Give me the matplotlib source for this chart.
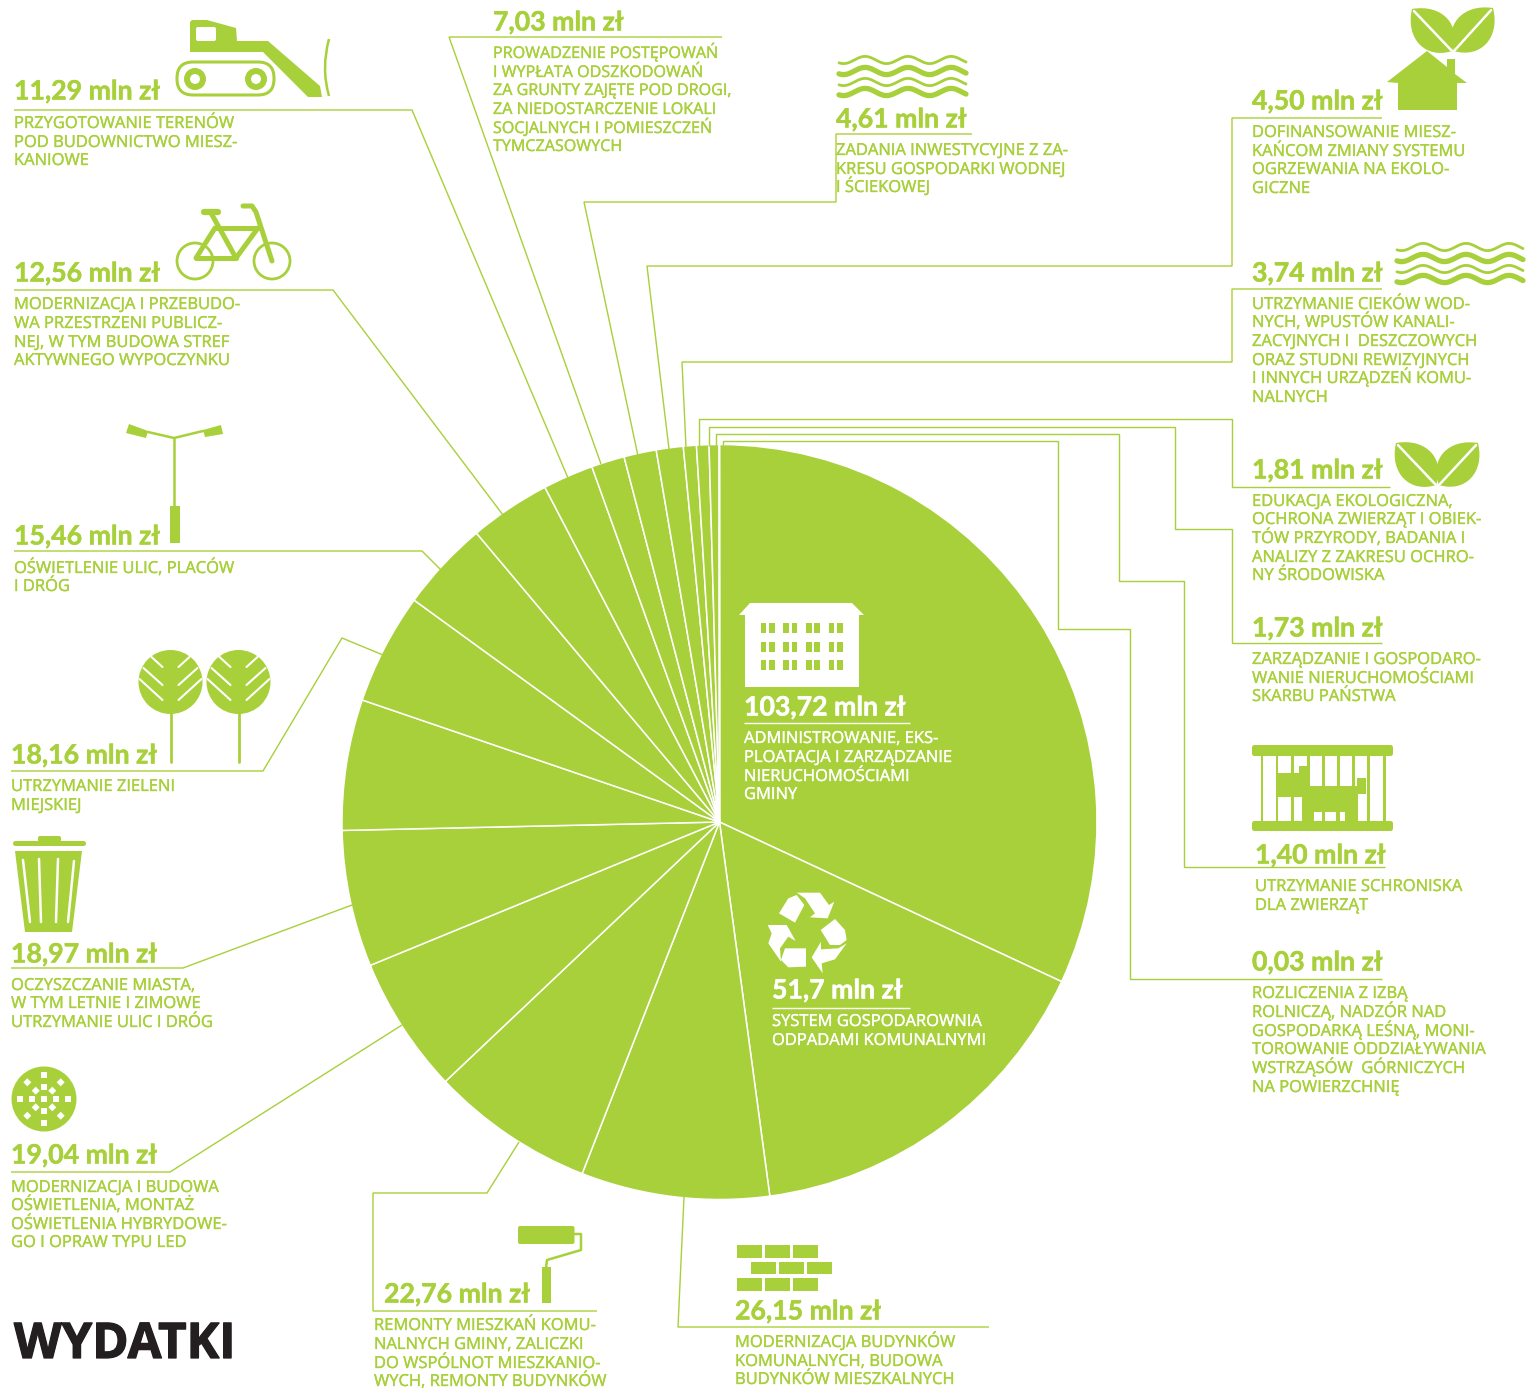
import numpy as np
import matplotlib
matplotlib.use("Agg")
import matplotlib.pyplot as plt
import matplotlib.patheffects as pe
from matplotlib.patches import Polygon, Circle, Rectangle, FancyBboxPatch, PathPatch
from matplotlib.path import Path

W, H = 1529, 1388
GREEN = "#A8D03A"
LINE = "#A8D03A"
DARK = "#231F20"
plt.rcParams["font.family"] = ["Open Sans", "DejaVu Sans"]

# ---------------- data (clockwise from the top) ----------------
values = [103.72, 51.7, 26.15, 22.76, 19.04, 18.97, 18.16, 15.46, 12.56,
          11.29, 7.03, 4.61, 4.50, 3.74, 1.81, 1.73, 1.40, 0.03]
value_labels = ["103,72 mln zł", "51,7 mln zł", "26,15 mln zł", "22,76 mln zł",
                "19,04 mln zł", "18,97 mln zł", "18,16 mln zł", "15,46 mln zł",
                "12,56 mln zł", "11,29 mln zł", "7,03 mln zł", "4,61 mln zł",
                "4,50 mln zł", "3,74 mln zł", "1,81 mln zł", "1,73 mln zł",
                "1,40 mln zł", "0,03 mln zł"]
descriptions = [
    ["ADMINISTROWANIE, EKS-", "PLOATACJA I ZARZĄDZANIE", "NIERUCHOMOŚCIAMI", "GMINY"],
    ["SYSTEM GOSPODAROWNIA", "ODPADAMI KOMUNALNYMI"],
    ["MODERNIZACJA BUDYNKÓW", "KOMUNALNYCH, BUDOWA", "BUDYNKÓW MIESZKALNYCH"],
    ["REMONTY MIESZKAŃ KOMU-", "NALNYCH GMINY, ZALICZKI", "DO WSPÓLNOT MIESZKANIO-", "WYCH, REMONTY BUDYNKÓW"],
    ["MODERNIZACJA I BUDOWA", "OŚWIETLENIA, MONTAŻ", "OŚWIETLENIA HYBRYDOWE-", "GO I OPRAW TYPU LED"],
    ["OCZYSZCZANIE MIASTA,", "W TYM LETNIE I ZIMOWE", "UTRZYMANIE ULIC I DRÓG"],
    ["UTRZYMANIE ZIELENI", "MIEJSKIEJ"],
    ["OŚWIETLENIE ULIC, PLACÓW", "I DRÓG"],
    ["MODERNIZACJA I PRZEBUDO-", "WA PRZESTRZENI PUBLICZ-", "NEJ, W TYM BUDOWA STREF", "AKTYWNEGO WYPOCZYNKU"],
    ["PRZYGOTOWANIE TERENÓW", "POD BUDOWNICTWO MIESZ-", "KANIOWE"],
    ["PROWADZENIE POSTĘPOWAŃ", "I WYPŁATA ODSZKODOWAŃ", "ZA GRUNTY ZAJĘTE POD DROGI,", "ZA NIEDOSTARCZENIE LOKALI", "SOCJALNYCH I POMIESZCZEŃ", "TYMCZASOWYCH"],
    ["ZADANIA INWESTYCYJNE Z ZA-", "KRESU GOSPODARKI WODNEJ", "I ŚCIEKOWEJ"],
    ["DOFINANSOWANIE MIESZ-", "KAŃCOM ZMIANY SYSTEMU", "OGRZEWANIA NA EKOLO-", "GICZNE"],
    ["UTRZYMANIE CIEKÓW WOD-", "NYCH, WPUSTÓW KANALI-", "ZACYJNYCH I  DESZCZOWYCH", "ORAZ STUDNI REWIZYJNYCH", "I INNYCH URZĄDZEŃ KOMU-", "NALNYCH"],
    ["EDUKACJA EKOLOGICZNA,", "OCHRONA ZWIERZĄT I OBIEK-", "TÓW PRZYRODY, BADANIA I", "ANALIZY Z ZAKRESU OCHRO-", "NY ŚRODOWISKA"],
    ["ZARZĄDZANIE I GOSPODARO-", "WANIE NIERUCHOMOŚCIAMI", "SKARBU PAŃSTWA"],
    ["UTRZYMANIE SCHRONISKA", "DLA ZWIERZĄT"],
    ["ROZLICZENIA Z IZBĄ", "ROLNICZĄ, NADZÓR NAD", "GOSPODARKĄ LEŚNĄ, MONI-", "TOROWANIE ODDZIAŁYWANIA", "WSTRZĄSÓW  GÓRNICZYCH", "NA POWIERZCHNIĘ"],
]
# label layout: x of value, y-centre of value, x of text, y-centres of text lines
layout = [
    (744, 706, 744, [737, 756, 775, 793]),
    (772, 989, 772, [1020, 1039]),
    (735, 1310, 735, [1341, 1360, 1378]),
    (384, 1293, 374, [1324, 1343, 1362, 1380]),
    (11, 1154, 11, [1186, 1204, 1223, 1241]),
    (11, 953, 11, [984, 1002, 1021]),
    (11, 754, 11, [785, 804]),
    (14, 535, 14, [567, 585]),
    (14, 272, 14, [303, 322, 341, 359]),
    (14, 90, 14, [122, 141, 159]),
    (493, 21, 493, [52, 71, 89, 108, 127, 145]),
    (836, 118, 836, [149, 168, 186]),
    (1252, 100, 1252, [131, 150, 168, 187]),
    (1252, 272, 1252, [303, 321, 340, 359, 377, 396]),
    (1252, 469, 1252, [500, 518, 537, 556, 574]),
    (1252, 627, 1252, [658, 677, 695]),
    (1255, 854, 1255, [885, 904]),
    (1252, 961, 1252, [992, 1011, 1030, 1048, 1067, 1086]),
]
leaders = [
    [(14, 110), (412, 110), (568, 478)],
    [(722, 37), (449, 37), (601, 464)],
    [(972, 134), (836, 134), (836, 202), (584, 202), (638, 456)],
    [(1382, 118), (1232, 118), (1232, 266), (647, 266), (669, 449)],
    [(1382, 289), (1232, 289), (1232, 362), (682, 362), (686, 447)],
    [(1390, 487), (1232, 487), (1232, 419), (699, 419), (699, 446)],
    [(1382, 643), (1232, 643), (1232, 529), (1175, 529), (1175, 427), (709, 427), (709, 446)],
    [(1385, 867), (1184, 867), (1184, 581), (1119, 581), (1119, 434), (716, 434), (716, 445)],
    [(1382, 979), (1130, 979), (1130, 629), (1058, 629), (1058, 441), (723, 441), (723, 445)],
    [(14, 290), (333, 290), (503, 515)],
    [(14, 551), (422, 551), (441, 570)],
    [(11, 771), (263, 771), (342, 638), (383, 655)],
    [(11, 968), (183, 968), (352, 905)],
    [(11, 1172), (170, 1172), (402, 1025)],
    [(597, 1311), (373, 1311), (373, 1193), (487, 1193), (519, 1142)],
    [(989, 1327), (678, 1327), (684, 1197)],
]

fig = plt.figure(figsize=(W / 100, H / 100), dpi=100, facecolor="white")

# ---------------- pie ----------------
CX, CY, R = 719.5, 822, 377.5
axp = fig.add_axes([(CX - R) / W, 1 - (CY + R) / H, 2 * R / W, 2 * R / H])
axp.pie(values, startangle=90, counterclock=False, radius=1, colors=[GREEN],
        wedgeprops=dict(edgecolor="white", linewidth=1.1))
axp.set_xlim(-1, 1)
axp.set_ylim(-1, 1)
axp.set_axis_off()

# ---------------- overlay in pixel coordinates ----------------
ax = fig.add_axes([0, 0, 1, 1], facecolor="none")
ax.set_xlim(0, W)
ax.set_ylim(H, 0)
ax.set_axis_off()


def poly(pts, c=GREEN, z=3):
    ax.add_patch(Polygon(pts, closed=True, fc=c, ec="none", zorder=z))


def line(pts, c=GREEN, lw=1.0, z=4, cap="round", join="round"):
    xs, ys = zip(*pts)
    ax.plot(xs, ys, color=c, lw=lw, solid_capstyle=cap, solid_joinstyle=join, zorder=z)


def rrect(x0, y0, x1, y1, r=2, c=GREEN, z=3, fill=True, lw=0):
    ax.add_patch(FancyBboxPatch((x0 + r, y0 + r), x1 - x0 - 2 * r, y1 - y0 - 2 * r,
                                boxstyle=f"round,pad={r},rounding_size={r}",
                                fc=c if fill else "none", ec=c if not fill else "none",
                                lw=lw, zorder=z))


def rect(x0, y0, x1, y1, c=GREEN, z=3):
    ax.add_patch(Rectangle((x0, y0), x1 - x0, y1 - y0, fc=c, ec="none", zorder=z))


def circ(x, y, r, fc=GREEN, ec="none", lw=0, z=3):
    ax.add_patch(Circle((x, y), r, fc=fc, ec=ec, lw=lw, zorder=z))


# leader lines
for pts in leaders:
    line(pts, c=LINE, lw=1.0, z=2, cap="butt", join="miter")
# white rules inside the pie
line([(744, 723), (910, 723)], c="white", lw=1.0, cap="butt")
line([(772, 1008), (910, 1008)], c="white", lw=1.0, cap="butt")

# texts
for i, (lab, desc, (vx, vy, tx, tys)) in enumerate(zip(value_labels, descriptions, layout)):
    col = "white" if i < 2 else GREEN
    ax.text(vx, vy + 9.5, lab, fontsize=19.2, family=["Lato", "Open Sans"], fontweight="bold",
            color=col, va="baseline", ha="left", zorder=5,
            path_effects=[pe.withStroke(linewidth=0.35, foreground=col)])
    size = 11.6 if i == 10 else 11.9
    for s, y in zip(desc, tys):
        ax.text(tx, y + 6, s, fontsize=size, color=col, va="baseline", ha="left", zorder=5,
                path_effects=[pe.withStroke(linewidth=0.25, foreground=col)])
ax.text(14, 1358, "WYDATKI", fontsize=35.4, fontweight="bold", color=DARK, va="baseline", ha="left", zorder=5,
        path_effects=[pe.withStroke(linewidth=0.9, foreground=DARK)])

# ---------------- icons ----------------
# bulldozer
poly([(190, 22), (192, 20), (207, 20), (236, 28), (237, 41), (268, 41), (320, 86), (322, 97), (308, 97), (263, 52), (190, 52)])
rrect(196, 27, 216, 41, r=2, c="white", z=4)
rrect(177, 62, 274, 95, r=16, fill=False, lw=2.2)
for x in (195, 256):
    circ(x, 79, 8, fc="none", ec=GREEN, lw=4.3)
ax.add_patch(PathPatch(Path([(329, 39), (321, 68), (329, 96)], [Path.MOVETO, Path.CURVE3, Path.CURVE3]),
                       fc="none", ec=GREEN, lw=1.8, zorder=3))

# bicycle
for x in (195, 272):
    circ(x, 261, 18, fc="none", ec=GREEN, lw=2.0)
line([(204, 212), (218, 212)], lw=4.5)
line([(211, 213), (236, 258)], lw=3.6)
line([(196, 258), (236, 258)], lw=3.6)
line([(196, 258), (215, 228)], lw=3.6)
line([(215, 228), (258, 228)], lw=3.6)
line([(236, 258), (258, 228)], lw=3.6)
line([(243, 206), (252, 206), (256, 212), (272, 261)], lw=3.6)

# lamp
poly([(126, 433), (129, 424), (148, 431), (146, 438)])
poly([(203, 430), (221, 425), (223, 434), (205, 437)])
line([(148, 432), (174, 438), (203, 431)], lw=1.8)
line([(174, 438), (174, 510)], lw=1.8)
rect(170, 506, 180, 543)

# trees
for cx in (170.5, 238.5):
    circ(cx, 682, 32)
    line([(cx, 712), (cx, 762)], lw=2.0)
    for (a, b, c, d) in [(-19, -25, -8, -15), (-27, -14, -8, 3), (-31, -3, -8, 18)]:
        line([(cx + a, 682 + b), (cx + c, 682 + d)], c="white", lw=1.5)
        line([(cx - a, 682 + b), (cx - c, 682 + d)], c="white", lw=1.5)

# waste bin
rrect(13, 841, 86, 846, r=2.5)
rrect(38, 836, 61, 842, r=2)
poly([(15, 851), (82, 851), (72, 932), (25, 932)])
for p in [[(23, 860), (30, 922)], [(39, 859), (41, 922)], [(58, 859), (56, 922)], [(74, 861), (68, 922)]]:
    line(p, c="white", lw=1.8)

# lighting disc
circ(44, 1099, 32.5)
for dx, dy in [(0, 0), (-24, 0), (-12, 0), (12, 0), (24, 0), (0, -24), (0, -12), (0, 12), (0, 24)]:
    rect(44 + dx - 3, 1099 + dy - 3, 44 + dx + 3, 1099 + dy + 3, c="white", z=4)
for sx in (-1, 1):
    for sy in (-1, 1):
        for d in (8.3, 16.7):
            x0, y0 = 44 + sx * d, 1099 + sy * d
            poly([(x0 - 4, y0), (x0, y0 - 4), (x0 + 4, y0), (x0, y0 + 4)], c="white", z=4)

# paint roller
rrect(518, 1226, 574.5, 1244, r=2)
line([(574, 1234), (581, 1234), (581, 1250), (547, 1260), (546, 1268)], lw=1.8)
rect(542, 1267, 551, 1303)

# bricks
for y0, y1, xs in [(1245, 1258, (737, 765, 793)), (1262, 1274, (751, 779, 807)), (1278, 1291, (737, 765, 793))]:
    for x in xs:
        rect(x, y0, x + 24.5, y1)


# waves
def waves(x0, x1, ys, lws):
    n = 160
    xs = np.linspace(x0, x1, n)
    for y, lw in zip(ys, lws):
        ax.plot(xs, y + 3.6 * np.sin((xs - x0) / 43 * 2 * np.pi + 0.9), color=GREEN, lw=lw,
                solid_capstyle="round", zorder=3)


waves(839, 966, [60, 71, 82, 92], [2.0, 3.8, 2.0, 3.8])
waves(1397, 1523, [247, 258, 269, 279], [2.0, 3.8, 2.0, 3.8])


# leaves
def leaf(tip, base, flip=1, z=3):
    t, b = np.array(tip, float), np.array(base, float)
    u = b - t
    n = np.array([u[1], -u[0]]) * flip
    C = lambda a, k: tuple(t + a * u + k * n)
    verts = [tuple(t), C(0.3, 0.45), C(0.8, 0.42), tuple(b), C(0.8, -0.42), C(0.3, -0.45), tuple(t)]
    codes = [Path.MOVETO, Path.CURVE4, Path.CURVE4, Path.CURVE4, Path.CURVE4, Path.CURVE4, Path.CURVE4]
    ax.add_patch(PathPatch(Path(verts, codes), fc=GREEN, ec="none", zorder=z))
    line([C(0.05, 0), C(0.98, 0)], c="white", lw=1.8, z=z + 1)


leaf((1412, 9), (1452, 51))
leaf((1493, 8), (1454, 51))
leaf((1396, 443), (1436, 485))
leaf((1478, 443), (1439, 485))

# house
poly([(1387, 82), (1427, 51), (1447, 67), (1447, 59), (1455, 59), (1455, 74), (1467, 83), (1457, 83),
      (1457, 110), (1398, 110), (1398, 83)])

# cage with dog
rrect(1252, 745, 1393, 756, r=2.5)
rrect(1252, 821, 1393, 831, r=2.5)
for zx in (65, 110, 157, 205, 250, 295, 340, 385, 433):
    rect(1240 + zx / 3 - 1, 755, 1240 + zx / 3 + 1.2, 822)
zz = [(110, 130), (178, 130), (178, 108), (208, 108), (208, 168), (350, 168), (350, 145), (378, 145), (378, 192),
      (355, 192), (355, 272), (316, 272), (316, 245), (222, 245), (222, 272), (185, 272), (185, 200), (110, 200)]
poly([(1240 + x / 3, 730 + y / 3) for x, y in zz])
rect(1240 + 245 / 3, 730 + 240 / 3, 1240 + 252 / 3, 730 + 272 / 3)
rect(1240 + 288 / 3, 730 + 240 / 3, 1240 + 296 / 3, 730 + 272 / 3)

# building (white)
poly([(739, 615), (750, 603), (852, 603), (864, 615), (859, 615), (859, 687), (745, 687), (745, 615)], c="white", z=4)
for row in (100, 155, 210):
    for zx in (92, 117, 160, 185, 228, 253, 296, 321):
        rect(730 + zx / 3, 590 + row / 3, 730 + (zx + 17) / 3, 590 + (row + 30) / 3, z=5)

# recycling arrows (white)
rec = [
    [(72, 100), (100, 55), (125, 45), (148, 75), (120, 128)],
    [(125, 38), (195, 38), (222, 75), (238, 65), (218, 115), (165, 112), (180, 100), (150, 55)],
    [(197, 150), (240, 117), (270, 150), (275, 180), (255, 195), (225, 195)],
    [(275, 190), (240, 238), (200, 250), (203, 280), (170, 232), (198, 185), (198, 208), (250, 205)],
    [(38, 135), (95, 135), (122, 183), (100, 170), (75, 205), (78, 245), (40, 190), (50, 160)],
    [(90, 205), (153, 205), (153, 260), (100, 262), (78, 240)],
]
for p in rec:
    poly([(755 + x / 3, 880 + y / 3) for x, y in p], c="white", z=4)

fig.savefig("out.png", dpi=100, facecolor="white")
